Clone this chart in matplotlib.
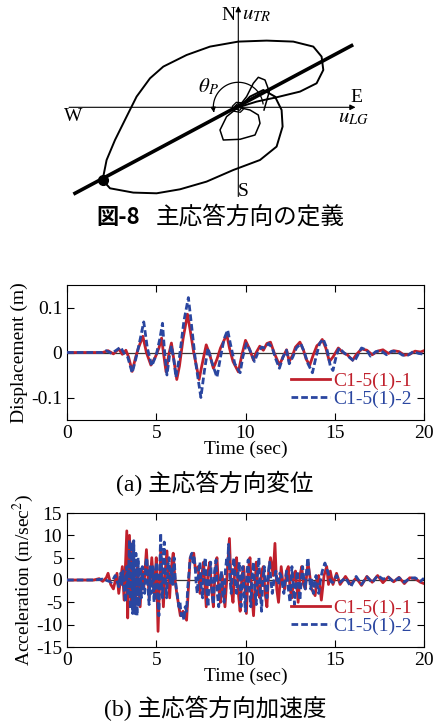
import numpy as np
import matplotlib
matplotlib.use('Agg')
import matplotlib.pyplot as plt

plt.rcParams['font.family'] = ['Liberation Serif', 'Noto Sans CJK JP']
plt.rcParams['mathtext.fontset'] = 'stix'
plt.rcParams['axes.unicode_minus'] = False

# ---- orbit sketch (pixel-like units, origin at centre) ----
orbit_big_x = [0, 18.3, 38.3, 61.7, 78.3, 85, 83.3, 75, 55, 28.3, 0, -28.3, -51.7, -75, -88.3,
               -101.7, -111.7, -123.3, -131.7, -135.7, -128.3, -105, -81.7, -58.3, -31.7, -5,
               21.7, 38.3, 44.3, 43.3, 36.7, 25, 11.7, 1.7]
orbit_big_y = [0, 5.7, 10, 15.7, 24, 37.3, 50.7, 60.7, 65.7, 66.7, 65.7, 60.7, 52.3, 40.7, 29,
               10.7, -9.3, -32.7, -52.7, -72.7, -81, -85.3, -86, -82, -74.3, -62.7,
               -52.7, -39.3, -19.3, -2.7, 10.7, 17.3, 10.7, 0.7]
orbit_up_x = [0, 8.3, 15, 20, 26.7, 31, 25.7]
orbit_up_y = [0, 10.7, 24, 30, 27.3, 15.7, -2.7]
orbit_low_x = [0, -11.7, -18.3, -15, 1.7, 16.7, 21.7, 20, 11.7, 0]
orbit_low_y = [0, -9.3, -22.7, -32.7, -32, -27.7, -16, -7.7, -2.7, 0]
spiral_x = [0, 2, 3, 1.5, -2, -3.5, -1, 3.5, 5, 2, -4, -6, -2, 4]
spiral_y = [0, 1.5, -1, -3, -2, 1, 3.5, 2.5, -2, -5, -4, 1, 5, 4.5]
principal_x = [-163.3, 113.3]
principal_y = [-86, 61.7]
peak_point = (-135.7, -72.7)

# ---- time histories ----
disp1_t = [0, 2.0, 2.3, 2.6, 2.9, 3.1, 3.3, 3.45, 3.65, 3.85, 4.0, 4.25, 4.45, 4.7, 4.95, 5.15,
           5.3, 5.4, 5.55, 5.7, 5.85, 6.0, 6.15, 6.3, 6.5, 6.75, 6.9, 7.1, 7.4, 7.55, 7.8, 8.0,
           8.2, 8.4, 8.6, 8.95, 9.1, 9.3, 9.6, 9.8, 10.0, 10.2, 10.45, 10.6, 10.8, 11.0, 11.2,
           11.4, 11.6, 11.9, 12.1, 12.3, 12.45, 12.65, 12.8, 13.05, 13.25, 13.4, 13.6, 13.8,
           14.0, 14.15, 14.3, 14.5, 14.7, 14.9, 15.2, 15.45, 15.7, 16.0, 16.2, 16.5, 16.8, 17.1,
           17.4, 17.7, 18.0, 18.3, 18.6, 18.9, 19.2, 19.5, 19.8, 20]
disp1_v = [0, 0, 0.004, -0.003, 0.008, -0.004, 0.005, -0.01, -0.042, -0.01, 0.01, 0.036, 0.0,
           -0.028, -0.01, 0.01, 0.032, 0.0, -0.043, -0.005, 0.021, -0.02, -0.06, -0.03, 0.03,
           0.085, 0.05, 0.0, -0.06, -0.03, 0.017, -0.005, -0.035, -0.015, 0.01, 0.04, 0.01,
           -0.02, -0.043, -0.005, 0.027, 0.01, -0.017, 0.0, 0.014, 0.005, 0.02, 0.023, 0.0,
           -0.028, -0.01, 0.006, -0.02, -0.005, 0.012, 0.023, 0.005, -0.015, -0.028, -0.005,
           0.015, 0.02, 0.029, 0.01, -0.02, -0.01, 0.01, 0.0, -0.005, -0.017, -0.005, 0.008,
           0.005, -0.005, 0.003, 0.006, -0.002, 0.004, 0.002, -0.006, -0.004, 0.003, 0.001, 0.004]
disp2_t = [0, 2.0, 2.2, 2.5, 2.8, 3.0, 3.2, 3.4, 3.65, 3.85, 4.05, 4.3, 4.5, 4.75, 5.0, 5.2,
           5.35, 5.45, 5.6, 5.75, 5.85, 6.0, 6.1, 6.3, 6.55, 6.8, 6.95, 7.2, 7.5, 7.7, 7.9, 8.1,
           8.4, 8.6, 8.8, 9.0, 9.15, 9.4, 9.7, 9.85, 10.05, 10.25, 10.5, 10.7, 10.9, 11.1, 11.3,
           11.5, 11.7, 11.9, 12.1, 12.3, 12.45, 12.65, 12.85, 13.1, 13.3, 13.5, 13.75, 13.95,
           14.15, 14.35, 14.55, 14.75, 14.9, 15.1, 15.25, 15.5, 15.8, 16.1, 16.3, 16.5, 16.8,
           17.0, 17.3, 17.6, 17.9, 18.2, 18.5, 18.8, 19.1, 19.4, 19.7, 20]
disp2_v = [0, 0, 0.004, -0.002, 0.006, 0.012, -0.002, -0.01, -0.045, -0.015, 0.02, 0.068, 0.01,
           -0.03, -0.005, 0.03, 0.065, 0.01, -0.05, -0.005, 0.015, -0.02, -0.055, -0.01, 0.07,
           0.122, 0.07, -0.02, -0.1, -0.04, 0.01, -0.02, -0.055, -0.01, 0.03, 0.05, 0.02,
           -0.025, -0.045, -0.01, 0.02, 0.005, -0.02, 0.0, 0.012, 0.01, 0.02, 0.01, -0.015,
           -0.035, -0.01, 0.005, -0.025, -0.01, 0.01, 0.02, 0.0, -0.025, -0.045, -0.01, 0.02,
           0.03, 0.01, -0.03, -0.04, -0.005, 0.01, 0.0, -0.01, -0.02, -0.005, 0.01, 0.005,
           -0.008, 0.002, 0.004, -0.005, 0.003, 0.002, -0.006, -0.006, 0.002, -0.002, -0.004]

acc1_t = [0, 1.5, 1.8, 2.0, 2.2, 2.3, 2.45, 2.6, 2.8, 2.9, 3.1, 3.2, 3.35, 3.4, 3.5, 3.6, 3.7,
          3.8, 3.95, 4.1, 4.2, 4.3, 4.45, 4.6, 4.75, 4.9, 5.0, 5.1, 5.25, 5.4, 5.5, 5.6, 5.75,
          5.85, 5.95, 6.05, 6.15, 6.35, 6.5, 6.7, 6.9, 7.1, 7.2, 7.35, 7.45, 7.55, 7.65, 7.8,
          7.9, 8.0, 8.1, 8.2, 8.3, 8.4, 8.5, 8.6, 8.7, 8.85, 9.0, 9.1, 9.2, 9.3, 9.4, 9.5, 9.6,
          9.7, 9.8, 9.9, 10.05, 10.15, 10.25, 10.35, 10.45, 10.6, 10.7, 10.8, 10.9, 11.0, 11.1,
          11.2, 11.3, 11.4, 11.55, 11.65, 11.75, 11.85, 12.0, 12.1, 12.2, 12.3, 12.4, 12.5,
          12.6, 12.7, 12.8, 12.95, 13.05, 13.15, 13.25, 13.35, 13.5, 13.6, 13.7, 13.9, 14.0,
          14.1, 14.25, 14.4, 14.55, 14.65, 14.75, 14.9, 15.1, 15.3, 15.6, 15.9, 16.2, 16.5,
          16.8, 17.1, 17.4, 17.7, 18.0, 18.3, 18.6, 18.9, 19.2, 19.5, 19.8, 20]
acc1_v = [0, 0, 0.3, -0.3, 0.5, 1.5, -1, -2, 1.5, -3, 3, -4.5, 11, -8.5, 10, -5, 8.5, -7, 3,
          -6, 2, -2, 6.8, -4, 5, -3.5, 5, -11.5, 7, -6, 2, 6.5, -4, 3, 6, 0, -3, -8, -7, -9, 5,
          6, 2, 3, -3, 1, 4, -6, 2, 4, -2, -6, 2, 5, -2, -5, 1, -6, 3, 9.3, -2, -5, 2, 5, -3,
          -7, 1, 3, -7.5, 2, 5, -3, -8, 4, -2, -4, 2, 3, -3, -6, 2, 5, 1, 8.2, -2, -5, 3, -1,
          -2, 2, 3, -2, -4, 1, 2, -5, 1, 3, -1, -2, 4, 1, -2, -3.5, 0, 1, -4.5, 1, 3, -1, 2, -1,
          1.5, -1, 0.8, -1, 0.5, -1.2, 0.8, -0.5, 1, -0.6, 0.7, -0.4, 0.6, -0.8, 0.5, 0.3, -0.5,
          -0.8]
acc2_t = [0, 1.5, 2.0, 2.5, 2.7, 2.9, 3.0, 3.07, 3.14, 3.21, 3.28, 3.35, 3.42, 3.5, 3.55, 3.62,
          3.68, 3.74, 3.8, 3.86, 3.92, 3.98, 4.04, 4.1, 4.16, 4.22, 4.28, 4.35, 4.42, 4.48,
          4.54, 4.6, 4.66, 4.72, 4.8, 4.88, 4.95, 5.02, 5.08, 5.15, 5.2, 5.25, 5.3, 5.35, 5.4,
          5.45, 5.52, 5.58, 5.65, 5.72, 5.8, 5.87, 5.93, 6.0, 6.07, 6.13, 6.2, 6.27, 6.33, 6.4,
          6.47, 6.55, 6.62, 6.7, 6.76, 6.82, 6.88, 6.94, 7.0, 7.06, 7.12, 7.18, 7.24, 7.3, 7.37,
          7.45, 7.52, 7.6, 7.67, 7.75, 7.82, 7.9, 7.97, 8.05, 8.12, 8.2, 8.27, 8.35, 8.42, 8.5,
          8.57, 8.65, 8.72, 8.8, 8.87, 8.95, 9.0, 9.05, 9.12, 9.2, 9.27, 9.35, 9.42, 9.5, 9.57,
          9.65, 9.7, 9.75, 9.8, 9.85, 9.92, 10.0, 10.07, 10.15, 10.22, 10.3, 10.37, 10.45,
          10.52, 10.6, 10.67, 10.75, 10.82, 10.9, 10.97, 11.05, 11.12, 11.2, 11.27, 11.35,
          11.42, 11.5, 11.6, 11.7, 11.77, 11.85, 11.92, 12.0, 12.07, 12.15, 12.22, 12.3, 12.4,
          12.5, 12.55, 12.6, 12.67, 12.75, 12.82, 12.9, 12.97, 13.05, 13.12, 13.2, 13.27,
          13.35, 13.42, 13.5, 13.57, 13.65, 13.72, 13.8, 13.87, 13.95, 14.02, 14.1, 14.2, 14.3,
          14.38, 14.45, 14.52, 14.6, 14.67, 14.75, 14.82, 14.9, 15.1, 15.3, 15.6, 15.9, 16.2,
          16.5, 16.8, 17.1, 17.4, 17.7, 18.0, 18.3, 18.6, 18.9, 19.2, 19.5, 19.8, 20]
acc2_v = [0, 0, 0.2, -0.5, 1, -1.5, 1.5, -1, 2, -2.5, -5, 3, -3, 9, -6.5, 8.5, -7.5, 8.8,
          -7.5, 6, -8, 5, -6, 3, -4, 3, -2, -3, 4, 5, -2, -5.5, 3, -3, 3, -5, 2, 4, -4, -8, 3,
          10.5, -2, -4, 6, 8.5, 0, -4, 3, 5, -1, 3, -1, 5, 0, -2, -4, -6, -5, -8, -7, -9, -6,
          -7, -2, 1, 4, 5.5, 6, 4, 5, 3, -1, -3, 2, 4, -2, -4, 3, 5, -2, -6, 1, 4, -3, -5.5, 2,
          4.5, -3, -6, 0, 2, -3, -5, 2, 5, 3, 8, 1, -3, 2, 5, 0, -3, 1, 4, -2, -6, 0, 3, -3,
          -7, 1, 4.5, -2, -6, 1, 4, -2, -5.5, 1, 5, -2, -7, 0, 3, -1, -4, 1, 4, 0, -3, 0, 2, 0,
          -1, 1.5, 1, -1, -3, 0, 2, -2, -5, 0, 3, -1, -5.5, -1, 2, -1, -4.5, 0, 3, 0, -2, 2, 5,
          1, -2, 0, -3, -1, 1, -1, -3, 0, 2, 3, 3.8, 3, 2, 1, 0, -0.5, -0.5, 1, -0.5, 0.5,
          -1.5, 0.8, -1, 0.7, -0.6, 1, 0.2, 0.6, -0.4, 0.5, -0.5, 0.4, 0.5, -0.3, 0.4]

red = '#c0202c'
blue = '#2a46a0'
labels = ['C1-5(1)-1', 'C1-5(1)-2']

fig = plt.figure(figsize=(4.33, 7.24), dpi=100)

# ---- orbit diagram ----
axd = fig.add_axes([0, 1 - 200 / 724, 1, 200 / 724])
axd.set_xlim(-238.3, 194.7)
axd.set_ylim(-92.7, 107.3)
axd.axis('off')
axd.annotate('', xy=(120, 0), xytext=(-172, 0),
             arrowprops=dict(arrowstyle='-|>', lw=0.8, color='k', mutation_scale=8))
axd.annotate('', xy=(0, 104), xytext=(0, -92),
             arrowprops=dict(arrowstyle='-|>', lw=0.8, color='k', mutation_scale=8))
axd.plot(orbit_big_x, orbit_big_y, color='k', lw=1.4)
axd.plot(orbit_up_x, orbit_up_y, color='k', lw=1.1)
axd.plot(orbit_low_x, orbit_low_y, color='k', lw=1.1)
axd.plot(spiral_x, spiral_y, color='k', lw=0.9)
axd.plot(principal_x, principal_y, color='k', lw=2.6)
axd.plot(*peak_point, 'o', color='k', ms=7)
ang = np.radians(np.linspace(8, 182, 60))
axd.plot(25 * np.cos(ang), 25 * np.sin(ang), color='k', lw=0.9)
axd.annotate('', xy=(25 * np.cos(np.radians(192)), 25 * np.sin(np.radians(192))),
             xytext=(25 * np.cos(np.radians(182)), 25 * np.sin(np.radians(182))),
             arrowprops=dict(arrowstyle='-|>', lw=0.9, color='k', mutation_scale=7))
axd.text(-3, 92, 'N', ha='right', va='center', fontsize=14)
axd.text(4, 92, r'$u_{TR}$', ha='left', va='center', fontsize=15)
axd.text(118, 10, 'E', ha='center', va='center', fontsize=14)
axd.text(115, -11, r'$u_{LG}$', ha='center', va='center', fontsize=15)
axd.text(-165, -9, 'W', ha='center', va='center', fontsize=14)
axd.text(5, -84, 'S', ha='center', va='center', fontsize=14)
axd.text(-30, 20, r'$\theta_P$', ha='center', va='center', fontsize=15)

fig.text(118 / 433, 1 - 217 / 724, '図-8', ha='center', va='center', fontsize=16,
         family='Noto Sans CJK JP', weight='bold')
fig.text(250 / 433, 1 - 217 / 724, '主応答方向の定義', ha='center', va='center', fontsize=17,
         family='Noto Sans CJK JP')


def style(ax):
    ax.axhline(0, color='#333333', lw=0.9, zorder=1)
    ax.set_xlim(0, 20)
    ax.set_xticks([0, 5, 10, 15, 20])
    ax.tick_params(direction='in', top=True, right=True, labelsize=14, length=5, width=0.8)
    ax.set_xlabel('Time (sec)', fontsize=14, labelpad=-1)
    for s in ax.spines.values():
        s.set_linewidth(0.8)


ax1 = fig.add_axes([67 / 433, 1 - 420 / 724, 357 / 433, 135 / 724])
ax1.plot(disp1_t, disp1_v, color=red, lw=2.0, label=labels[0], zorder=3)
ax1.plot(disp2_t, disp2_v, color=blue, lw=2.0, ls='--', dashes=(2.4, 1.1), label=labels[1], zorder=4)
style(ax1)
ax1.set_ylim(-0.15, 0.15)
ax1.set_yticks([-0.1, 0, 0.1])
ax1.set_yticklabels(['-0.1', '0', '0.1'])
ax1.set_ylabel('Displacement (m)', fontsize=14, labelpad=2)
ax1.legend(loc='lower right', frameon=False, fontsize=14, handlelength=2.0, handletextpad=0.2,
           labelspacing=0.05, borderaxespad=0.2, labelcolor='linecolor')
fig.text(215 / 433, 1 - 483 / 724, '(a) 主応答方向変位', ha='center', va='center', fontsize=17)

ax2 = fig.add_axes([67 / 433, 1 - 647 / 724, 357 / 433, 134 / 724])
ax2.plot(acc1_t, acc1_v, color=red, lw=2.0, label=labels[0], zorder=3)
ax2.plot(acc2_t, acc2_v, color=blue, lw=2.0, ls='--', dashes=(2.4, 1.1), label=labels[1], zorder=4)
style(ax2)
ax2.set_ylim(-15, 15)
ax2.set_yticks([-15, -10, -5, 0, 5, 10, 15])
ax2.set_ylabel(r'Acceleration (m/sec$^{2}$)', fontsize=14, labelpad=0)
ax2.legend(loc='lower right', frameon=False, fontsize=14, handlelength=2.0, handletextpad=0.2,
           labelspacing=0.05, borderaxespad=0.2, labelcolor='linecolor')
fig.text(215 / 433, 1 - 708 / 724, '(b) 主応答方向加速度', ha='center', va='center', fontsize=17)

fig.savefig('out.png', dpi=100)
